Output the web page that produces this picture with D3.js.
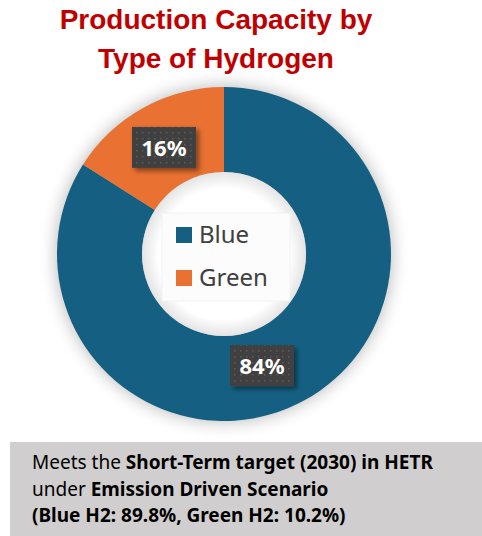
<!DOCTYPE html>
<html>
<head>
<meta charset="utf-8">
<script src="https://cdn.jsdelivr.net/npm/d3@7"></script>
<style>
  body { margin: 0; background: #fff; }
  svg { display: block; }
</style>
</head>
<body>
<div id="chart"></div>
<script>
// data
const categories = ["Blue", "Green"]
const shares = [84, 16]
const colors = ["#156082", "#E97132"]
const titleLines = ["Production Capacity by", "Type of Hydrogen"]
const noteLines = [
  [["Meets the ", false], ["Short-Term target (2030) in HETR", true]],
  [["under ", false], ["Emission Driven Scenario", true]],
  [["(Blue H2: 89.8%, Green H2: 10.2%)", true]],
]

const dataset = categories.map((c, i) => ({ name: c, value: shares[i], color: colors[i] }))

// dimensions
const width = 482
const height = 536
const cx = 224
const cy = 254
const outerR = 167
const innerR = 82

const svg = d3.select("#chart").append("svg")
    .attr("width", width)
    .attr("height", height)

const defs = svg.append("defs")

const glow = defs.append("filter")
    .attr("id", "glow")
    .attr("x", "-30%").attr("y", "-30%")
    .attr("width", "160%").attr("height", "160%")
glow.append("feGaussianBlur")
    .attr("in", "SourceAlpha")
    .attr("stdDeviation", 9)
glow.append("feComponentTransfer")
  .append("feFuncA").attr("type", "linear").attr("slope", 0.3)

const labelShadow = defs.append("filter")
    .attr("id", "label-shadow")
    .attr("x", "-30%").attr("y", "-30%")
    .attr("width", "170%").attr("height", "170%")
labelShadow.append("feDropShadow")
    .attr("dx", 3).attr("dy", 3)
    .attr("stdDeviation", 2.5)
    .attr("flood-color", "#000")
    .attr("flood-opacity", 0.45)

const dots = defs.append("pattern")
    .attr("id", "dots")
    .attr("width", 6).attr("height", 6)
    .attr("patternUnits", "userSpaceOnUse")
dots.append("rect").attr("width", 6).attr("height", 6).attr("fill", "#404040")
dots.append("rect").attr("x", 2).attr("y", 2).attr("width", 1.5).attr("height", 1.5).attr("fill", "#5e5e5e")

const innerShadow = defs.append("radialGradient")
    .attr("id", "hole")
innerShadow.append("stop").attr("offset", "80%").attr("stop-color", "#fff")
innerShadow.append("stop").attr("offset", "100%").attr("stop-color", "#e4e4e4")

// title
svg.append("g")
  .selectAll("text")
  .data(titleLines)
  .join("text")
    .attr("x", 216)
    .attr("y", (d, i) => 29 + i * 39)
    .attr("text-anchor", "middle")
    .attr("fill", "#C00000")
    .style("font-family", "'Liberation Sans', Arial, sans-serif")
    .style("font-weight", "bold")
    .style("font-size", "28px")
    .text(d => d)

// donut
const pie = d3.pie()
    .value(d => d.value)
    .sort(null)

const arcs = pie(dataset)

const arc = d3.arc()
    .innerRadius(innerR)
    .outerRadius(outerR)

const donut = svg.append("g")
    .attr("transform", `translate(${cx}, ${cy})`)

donut.append("circle")
    .attr("r", outerR)
    .attr("fill", "#000")
    .attr("filter", "url(#glow)")

donut.selectAll("path")
  .data(arcs)
  .join("path")
    .attr("d", arc)
    .attr("fill", d => d.data.color)

donut.append("circle")
    .attr("r", innerR)
    .attr("fill", "url(#hole)")

// legend
const legend = donut.append("g")
    .attr("transform", "translate(-48, -27)")

legend.append("rect")
    .attr("x", -14).attr("y", -14)
    .attr("width", 128).attr("height", 88)
    .attr("fill", "#fcfcfc")
    .attr("stroke", "#f2f2f2")

const legendItem = legend.selectAll("g")
  .data(dataset)
  .join("g")
    .attr("transform", (d, i) => `translate(0, ${i * 43})`)

legendItem.append("rect")
    .attr("width", 16).attr("height", 16)
    .attr("fill", d => d.color)

legendItem.append("text")
    .attr("x", 23)
    .attr("y", 15.5)
    .attr("fill", "#404040")
    .style("font-family", "'Noto Sans', sans-serif")
    .style("font-size", "24px")
    .text(d => d.name)

// data labels
const labelArc = d3.arc()
    .innerRadius((innerR + outerR) / 2)
    .outerRadius((innerR + outerR) / 2)

const labels = donut.selectAll("g.label")
  .data(arcs)
  .join("g")
    .attr("class", "label")
    .attr("transform", d => {
      const [x, y] = labelArc.centroid(d)
      const shift = d.data.value > 50 ? -22 : 0
      return `translate(${x + shift}, ${y + 3})`
    })

labels.append("rect")
    .attr("x", -32).attr("y", -21)
    .attr("width", 64).attr("height", 41)
    .attr("fill", "url(#dots)")
    .attr("filter", "url(#label-shadow)")

labels.append("text")
    .attr("text-anchor", "middle")
    .attr("y", 8)
    .attr("fill", "#fff")
    .style("font-family", "'Noto Sans', sans-serif")
    .style("font-weight", "bold")
    .style("font-size", "22px")
    .text(d => `${d.data.value}%`)

// note box
svg.append("rect")
    .attr("x", 10).attr("y", 442)
    .attr("width", width - 10).attr("height", 94)
    .attr("fill", "#D0CECE")

svg.append("g")
  .selectAll("text")
  .data(noteLines)
  .join("text")
    .attr("x", 32)
    .attr("y", (d, i) => 469 + i * 26.5)
    .attr("fill", "#000")
    .style("font-family", "'Noto Sans', sans-serif")
    .style("font-size", "19px")
  .selectAll("tspan")
  .data(d => d)
  .join("tspan")
    .style("font-weight", d => d[1] ? "bold" : "normal")
    .text(d => d[0])
</script>
</body>
</html>
